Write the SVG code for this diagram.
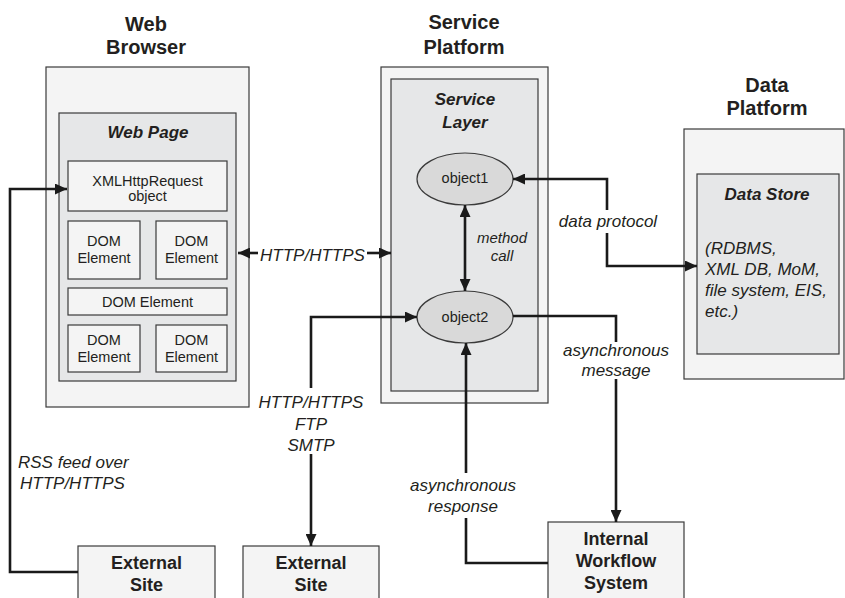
<svg xmlns="http://www.w3.org/2000/svg" width="845" height="598" viewBox="0 0 845 598">
  <style>
    text { font-family: "Liberation Sans", Arial, sans-serif; fill: #231f20; }
    .title { font-size: 20px; font-weight: bold; text-anchor: middle; }
    .layer { font-size: 17px; font-weight: bold; font-style: italic; text-anchor: middle; }
    .body { font-size: 14.5px; text-anchor: middle; }
    .lbl { font-size: 17px; font-style: italic; }
    .mid { text-anchor: middle; }
    .small { font-size: 15px; }
    .site { font-size: 18px; font-weight: bold; text-anchor: middle; }
    .outer { fill: #f4f4f4; stroke: #3a3a3a; stroke-width: 1.2; }
    .inner { fill: #e6e7e8; stroke: #3a3a3a; stroke-width: 1.2; }
    .cell { fill: #f4f4f4; stroke: #3a3a3a; stroke-width: 1.2; }
    .obj { fill: #d9d9d9; stroke: #3a3a3a; stroke-width: 1.2; }
    .wire { fill: none; stroke: #1a1a1a; stroke-width: 2.6; }
  </style>
  <defs>
    <marker id="arrow" markerUnits="userSpaceOnUse" markerWidth="12" markerHeight="11" refX="12" refY="5.5" orient="auto-start-reverse">
      <path d="M0,0 L12,5.5 L0,11 z" fill="#1a1a1a"/>
    </marker>
  </defs>

  <rect width="845" height="598" fill="#ffffff"/>

  <!-- Web browser with its page -->
  <g id="web-browser">
    <text class="title" x="146" y="31">Web</text>
    <text class="title" x="146" y="54">Browser</text>
    <rect class="outer" x="46" y="67" width="203" height="340"/>
    <rect class="inner" x="59" y="113" width="177" height="268"/>
    <text class="layer" x="148" y="138">Web Page</text>
  </g>
  <g id="xhr">
    <rect class="cell" x="68" y="161" width="159" height="50"/>
    <text class="body" x="147.5" y="186">XMLHttpRequest</text>
    <text class="body" x="147.5" y="201">object</text>
  </g>
  <g id="dom-1">
    <rect class="cell" x="68" y="221" width="72" height="58"/>
    <text class="body" x="104" y="246">DOM</text>
    <text class="body" x="104" y="263">Element</text>
  </g>
  <g id="dom-2">
    <rect class="cell" x="156" y="221" width="71" height="58"/>
    <text class="body" x="191.5" y="246">DOM</text>
    <text class="body" x="191.5" y="263">Element</text>
  </g>
  <g id="dom-3">
    <rect class="cell" x="68" y="288" width="159" height="27"/>
    <text class="body" x="147.5" y="307">DOM Element</text>
  </g>
  <g id="dom-4">
    <rect class="cell" x="68" y="325" width="72" height="47"/>
    <text class="body" x="104" y="345">DOM</text>
    <text class="body" x="104" y="362">Element</text>
  </g>
  <g id="dom-5">
    <rect class="cell" x="156" y="325" width="71" height="47"/>
    <text class="body" x="191.5" y="345">DOM</text>
    <text class="body" x="191.5" y="362">Element</text>
  </g>

  <!-- Service platform -->
  <g id="service-platform">
    <text class="title" x="464" y="29">Service</text>
    <text class="title" x="464" y="54">Platform</text>
    <rect class="outer" x="381" y="67" width="167" height="336"/>
    <rect class="inner" x="391" y="79" width="147" height="312"/>
    <text class="layer" x="465" y="105">Service</text>
    <text class="layer" x="465" y="128">Layer</text>
  </g>
  <g id="object1">
    <ellipse class="obj" cx="465" cy="179" rx="48" ry="26"/>
    <text class="body" x="465" y="183">object1</text>
  </g>
  <g id="object2">
    <ellipse class="obj" cx="465" cy="317" rx="48" ry="26"/>
    <text class="body" x="465" y="322">object2</text>
  </g>

  <!-- Data platform -->
  <g id="data-platform">
    <text class="title" x="767" y="92">Data</text>
    <text class="title" x="767" y="115">Platform</text>
    <rect class="outer" x="684" y="129" width="160" height="250"/>
  </g>
  <g id="data-store">
    <rect class="inner" x="697" y="174" width="142" height="180"/>
    <text class="layer" x="767" y="200">Data Store</text>
    <text class="lbl" x="705" y="254">(RDBMS,</text>
    <text class="lbl" x="705" y="275">XML DB, MoM,</text>
    <text class="lbl" x="705" y="296">file system, EIS,</text>
    <text class="lbl" x="705" y="317">etc.)</text>
  </g>

  <!-- Systems along the bottom edge -->
  <g id="external-site-1">
    <rect class="cell" x="78" y="546" width="137" height="60"/>
    <text class="site" x="146.5" y="569">External</text>
    <text class="site" x="146.5" y="591">Site</text>
  </g>
  <g id="external-site-2">
    <rect class="cell" x="243" y="546" width="136" height="60"/>
    <text class="site" x="311" y="569">External</text>
    <text class="site" x="311" y="591">Site</text>
  </g>
  <g id="internal-workflow">
    <rect class="cell" x="548" y="522" width="136" height="84"/>
    <text class="site" x="616" y="545">Internal</text>
    <text class="site" x="616" y="567">Workflow</text>
    <text class="site" x="616" y="589">System</text>
  </g>

  <!-- Connectors -->
  <g id="connectors">
    <path class="wire" d="M78,572 H10 V189 H67" marker-end="url(#arrow)"/>
    <path class="wire" d="M258,253 H238" marker-end="url(#arrow)"/>
    <path class="wire" d="M367,253 H391" marker-end="url(#arrow)"/>
    <path class="wire" d="M465,205 V291" marker-start="url(#arrow)" marker-end="url(#arrow)"/>
    <path class="wire" d="M607,210 V179 H513" marker-end="url(#arrow)"/>
    <path class="wire" d="M607,233 V266 H697" marker-end="url(#arrow)"/>
    <path class="wire" d="M311,388 V317 H417" marker-end="url(#arrow)"/>
    <path class="wire" d="M311,454 V546" marker-end="url(#arrow)"/>
    <path class="wire" d="M513,316 H616 V342"/>
    <path class="wire" d="M616,379 V522" marker-end="url(#arrow)"/>
    <path class="wire" d="M548,563 H466 V518"/>
    <path class="wire" d="M466,473 V343" marker-end="url(#arrow)"/>

    <text class="lbl mid" x="312.5" y="261">HTTP/HTTPS</text>
    <text class="lbl mid small" x="502" y="243">method</text>
    <text class="lbl mid small" x="502" y="261">call</text>
    <text class="lbl mid" x="608" y="227">data protocol</text>
    <text class="lbl mid" x="616" y="356">asynchronous</text>
    <text class="lbl mid" x="616" y="376">message</text>
    <text class="lbl mid" x="311" y="408">HTTP/HTTPS</text>
    <text class="lbl mid" x="311" y="430">FTP</text>
    <text class="lbl mid" x="311" y="451">SMTP</text>
    <text class="lbl" x="18" y="468">RSS feed over</text>
    <text class="lbl" x="20" y="489">HTTP/HTTPS</text>
    <text class="lbl mid" x="463" y="491">asynchronous</text>
    <text class="lbl mid" x="463" y="512">response</text>
  </g>
</svg>
